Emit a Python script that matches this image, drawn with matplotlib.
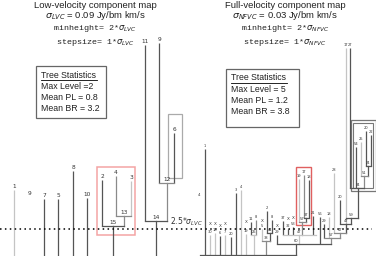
import matplotlib
matplotlib.use("Agg")
from matplotlib import pyplot as plt
from matplotlib.patches import Rectangle

# everything in picture pixels: x to the right, y downwards
DARK, MID, LIGHT = '#555555', '#8a8a8a', '#c4c4c4'
SHADES = [DARK, MID, LIGHT]

# ---- low-velocity tree ----
lvc_leaf_x = [14, 44, 58, 73, 87, 102, 116, 131, 145, 159, 174]
lvc_leaf_top = [190, 199, 199, 171, 198, 180, 176, 181, 45, 43, 133]
lvc_leaf_bot = [256, 256, 256, 256, 256, 226, 216, 216, 221, 183, 183]
lvc_leaf_lab = ['1', '7', '5', '8', '10', '2', '4', '3', '11', '9', '6']
lvc_leaf_shade = [2, 0, 0, 0, 0, 0, 1, 2, 0, 0, 0]

lvc_node_x0 = [116, 102, 159, 145]
lvc_node_x1 = [131, 124, 174, 167]
lvc_node_y = [216, 226, 183, 221]
lvc_node_lab = ['13', '15', '12', '14']
lvc_node_stem = [124, 113, 167, 156]
lvc_node_stem_bot = [226, 256, 221, 256]
lvc_node_shade = [1, 0, 1, 0]

# ---- full-velocity tree ----
fvc_leaf_x = [205, 210, 215, 220, 225, 231, 236, 241, 246, 251, 256, 262, 267, 272,
              277, 283, 288, 293, 299, 304, 309, 313, 320, 324, 329, 334, 340,
              346, 350, 356, 361, 366, 371]
fvc_leaf_top = [149, 235, 233, 236, 235, 237, 193, 190, 234, 222, 220, 229, 211, 220,
                235, 221, 229, 227, 179, 175, 180, 216, 217, 224, 217, 173, 200,
                48, 48, 147, 142, 131, 135]
fvc_leaf_bot = [256, 256, 256, 256, 256, 256, 256, 256, 256, 235, 235, 241, 233, 233,
                244, 235, 235, 235, 222, 218, 218, 235, 244, 238, 238, 233, 224,
                233, 188, 188, 176, 166, 166]
fvc_leaf_lab = ['1', '30', '16', '6', '7', '20', '3', '4', '19', '11', '8', '5', '2', '8',
                '29', '37', '32', '53', '19', '17', '18', '21', '56', '29', '18', '28', '20',
                '17', '27', '54', '25', '20', '22']
fvc_leaf_shade = [0, 2, 2, 0, 2, 0, 0, 2, 2, 0, 1, 2, 0, 0,
                  0, 0, 0, 0, 2, 1, 0, 0, 0, 0, 2, 2, 0,
                  2, 0, 0, 2, 0, 0]
fvc_cross_x = [210, 215, 220, 225, 246, 262, 277, 288, 293]
fvc_cross_y = [226, 226, 228, 226, 224, 223, 228, 221, 220]

fvc_node_x0 = [366, 361, 350, 346, 340, 334, 324, 304, 299, 267, 262, 251, 283, 277, 200]
fvc_node_x1 = [371, 368, 364, 358, 351, 346, 340, 309, 306, 272, 270, 256, 316, 331, 296]
fvc_node_y = [166, 176, 188, 218, 224, 233, 238, 218, 222, 233, 241, 235, 235, 244, 255]
fvc_node_lab = ['24', '51', '34', '59', '47', '47', '57', '37', '57', '41', '38', '25', '47', '60', '']
fvc_node_stem = [368, 364, 358, 351, 346, 340, 331, 306, 302, 270, 266, 254, 299, 296, 0]
fvc_node_stem_bot = [176, 188, 218, 224, 233, 238, 244, 222, 235, 241, 256, 256, 244, 255, 0]
fvc_node_shade = [0, 1, 0, 0, 0, 1, 1, 0, 1, 0, 1, 2, 2, 0, 0]

threshold_y = 229

fig = plt.figure(figsize=(3.76, 2.56), dpi=100)
ax = fig.add_axes([0, 0, 1, 1])
ax.set_xlim(0, 376)
ax.set_ylim(256, 0)
ax.axis('off')


def draw_tree(leaf_x, leaf_top, leaf_bot, leaf_lab, leaf_shade,
              node_x0, node_x1, node_y, node_lab, node_stem, node_stem_bot, node_shade,
              fs):
    for x, t, b, lab, s in zip(leaf_x, leaf_top, leaf_bot, leaf_lab, leaf_shade):
        ax.plot([x, x], [t, b], color=SHADES[s], lw=0.9, solid_capstyle='butt')
        ax.text(x, t - 1, lab, fontsize=fs, ha='center', va='bottom', color='#333333')
    for x0, x1, y, lab, sx, sb, s in zip(node_x0, node_x1, node_y, node_lab,
                                          node_stem, node_stem_bot, node_shade):
        ax.plot([x0, x1], [y, y], color=SHADES[s], lw=0.9)
        if sx:
            ax.plot([sx, sx], [y, sb], color=SHADES[s], lw=0.9)
        if lab:
            ax.text(sx, y - 1, lab, fontsize=fs, ha='center', va='bottom', color='#333333')


draw_tree(lvc_leaf_x, lvc_leaf_top, lvc_leaf_bot, lvc_leaf_lab, lvc_leaf_shade,
          lvc_node_x0, lvc_node_x1, lvc_node_y, lvc_node_lab, lvc_node_stem,
          lvc_node_stem_bot, lvc_node_shade, 4.2)
ax.text(29, 196, '9', fontsize=4.2, ha='center', va='bottom', color='#333333')

draw_tree(fvc_leaf_x, fvc_leaf_top, fvc_leaf_bot, fvc_leaf_lab, fvc_leaf_shade,
          fvc_node_x0, fvc_node_x1, fvc_node_y, fvc_node_lab, fvc_node_stem,
          fvc_node_stem_bot, fvc_node_shade, 2.6)
for x, y in zip(fvc_cross_x, fvc_cross_y):
    ax.text(x, y, 'X', fontsize=3.0, ha='center', va='bottom', color='#333333')
ax.text(199, 197, '4', fontsize=2.8, ha='center', va='bottom', color='#333333')

# boxes around sub-structures
ax.add_patch(Rectangle((97, 167), 38, 68, fill=False, ec='#f4a4a4', lw=1.1))
ax.add_patch(Rectangle((168, 114), 14, 64, fill=False, ec='#aaaaaa', lw=0.9))
ax.add_patch(Rectangle((296, 167), 15, 58, fill=False, ec='#e06060', lw=1.0))
ax.add_patch(Rectangle((351, 120), 25, 71, fill=False, ec='#777777', lw=0.9))
ax.add_patch(Rectangle((353, 123), 20, 65, fill=False, ec='#777777', lw=0.8))

# 2.5 sigma threshold
ax.plot([0, 372], [threshold_y, threshold_y], color='black', lw=1.1,
        linestyle=(0, (1, 2.2)))
ax.text(170, threshold_y - 1, r'2.5*$\sigma_{LVC}$', fontsize=5.5, ha='left',
        va='bottom', color='#333333')

sans = 'Liberation Sans'
mono = 'Liberation Mono'


def header(cx, title, sigma_txt, sub):
    ax.text(cx, 5, title, fontsize=6.8, family=sans, ha='center', va='center',
            color='#222222')
    ax.text(cx, 16, r'$\sigma_{%s}$ = %s' % (sub, sigma_txt), fontsize=6.8,
            family=sans, ha='center', va='center', color='#222222')
    ax.text(cx, 29, r'minheight= 2*$\sigma_{%s}$' % sub, fontsize=6.0, family=mono,
            ha='center', va='center', color='#222222')
    ax.text(cx, 42, r'stepsize= 1*$\sigma_{%s}$' % sub, fontsize=6.0, family=mono,
            ha='center', va='center', color='#222222')


header(95, 'Low-velocity component map', '0.09 Jy/bm km/s', 'LVC')
header(285, 'Full-velocity component map', '0.03 Jy/bm km/s', 'NFVC')


def stats_box(x0, y0, w, h, lines, ul):
    ax.add_patch(Rectangle((x0, y0), w, h, fill=True, fc='white', ec='#666666', lw=0.9))
    for i, line in enumerate(lines):
        ax.text(x0 + 5, y0 + 9 + i * 11.2, line, fontsize=6.3, family=sans,
                ha='left', va='center', color='#222222')
    ax.plot([x0 + 5, x0 + 5 + ul], [y0 + 13.5, y0 + 13.5], color='black', lw=0.6)


stats_box(36, 66, 70, 52, ['Tree Statistics', 'Max Level =2', 'Mean PL = 0.8',
                           'Mean BR = 3.2'], 56)
stats_box(226, 69, 73, 58, ['Tree Statistics', 'Max Level = 5', 'Mean PL = 1.2',
                            'Mean BR = 3.8'], 56)

fig.savefig('out.png', dpi=100)
